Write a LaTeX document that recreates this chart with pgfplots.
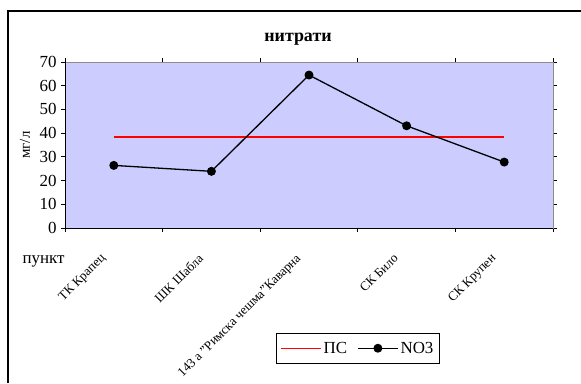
\documentclass[border=0pt]{standalone}
\usepackage{fontspec}
\setmainfont{Liberation Serif}
\usepackage{pgfplots}
\pgfplotsset{compat=1.18}
\definecolor{plotbg}{RGB}{204,204,255}
\definecolor{pcred}{RGB}{255,0,0}
\begin{document}
\begin{tikzpicture}[x=1bp,y=1bp]
  % page extent and the chart frame (top and left edges)
  \path[use as bounding box] (0,0) rectangle (581,383);
  \draw[line width=2bp] (7.5,0) -- (7.5,371.5) -- (581,371.5);

  \begin{axis}[
    at={(65bp,155bp)}, anchor=south west,
    scale only axis, width=488bp, height=166bp,
    xmin=0.5, xmax=5.5, ymin=0, ymax=70,
    ytick={0,10,...,70},
    xtick={1,2,3,4,5},
    xticklabels={ТК Крапец, ШК Шабла, {143 а "Римска чешма"Каварна}, СК Било, СК Крупен},
    minor xtick={0.5,1.5,...,5.5},
    major x tick style={draw=none},
    tick align=outside,
    major tick length=4bp, minor tick length=4bp,
    tick style={black, line width=0.8bp},
    axis line style={draw=gray!90, line width=1bp},
    axis background/.style={fill=plotbg},
    yticklabel style={font=\fontsize{17}{19}\selectfont, xshift=-1bp},
    /pgf/number format/assume math mode=true,
    xticklabel style={font=\fontsize{13}{15}\selectfont, xshift=-14bp, yshift=-16bp, rotate=45, anchor=north east},
    legend style={at={(0.4324,-0.6325)}, anchor=north west, draw=black, line width=0.8bp,
      legend columns=2, font=\fontsize{17}{19}\selectfont,
      /tikz/every even column/.append style={column sep=8bp},
      inner xsep=4bp, inner ysep=6.5bp},
    clip=false,
  ]
    % permissible concentration (ПС)
    \addplot[pcred, line width=1.3bp, mark=none,
      legend image code/.code={\draw[pcred, line width=1.3bp] (0bp,0bp) -- (40bp,0bp);}]
      coordinates {(1,38.4) (5,38.4)};
    \addlegendentry{ПС}
    % measured nitrate concentrations
    \addplot[black, line width=1.3bp, mark=*, mark size=3.8bp, mark options={fill=black},
      legend image code/.code={
        \draw[black, line width=1.3bp] (0bp,0bp) -- (40bp,0bp);
        \fill[black] (20bp,0bp) circle[radius=3.8bp];}]
      coordinates {(1,26.4) (2,23.9) (3,64.5) (4,43.1) (5,27.8)};
    \addlegendentry{NO3}
    % dark axis lines on the left and bottom
    \draw[black, line width=1bp] (rel axis cs:0,1) -- (rel axis cs:0,0) -- (rel axis cs:1,0);
  \end{axis}

  \node[font=\bfseries\fontsize{18}{20}\selectfont] at (298,344) {нитрати};
  \node[font=\fontsize{15}{17}\selectfont, rotate=90] at (25,238) {мг/л};
  \node[font=\fontsize{17}{19}\selectfont, anchor=base west] at (19,120) {пункт};
\end{tikzpicture}
\end{document}
